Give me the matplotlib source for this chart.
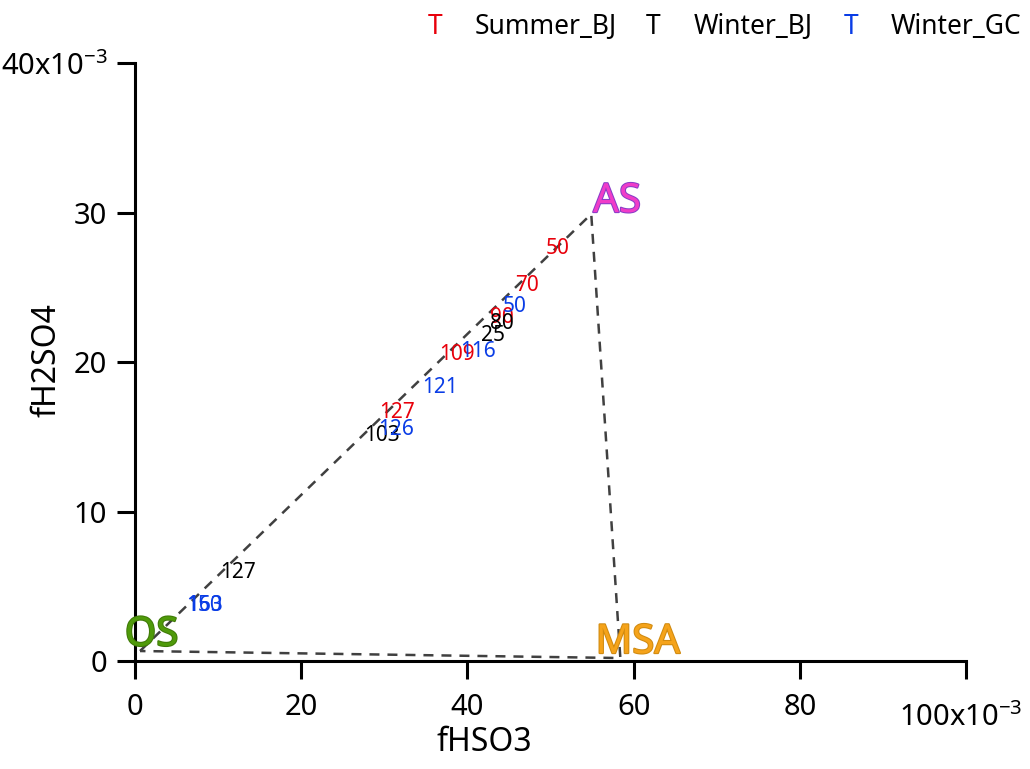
import matplotlib
matplotlib.use('Agg')
import matplotlib.pyplot as plt
import matplotlib.patheffects as pe

plt.rcParams['font.family'] = ['Noto Sans', 'DejaVu Sans']
plt.rcParams['mathtext.fontset'] = 'custom'
plt.rcParams['mathtext.rm'] = 'Noto Sans'
plt.rcParams['mathtext.it'] = 'Noto Sans'

# values in units of 1e-3
summer_labels = ['50', '70', '90', '109', '127']
summer_x = [50.9, 47.2, 44.2, 38.7, 31.5]
summer_y = [27.6, 25.1, 23.0, 20.5, 16.6]

winter_bj_labels = ['80', '25', '103', '127']
winter_bj_x = [44.2, 43.1, 29.7, 12.4]
winter_bj_y = [22.6, 21.8, 15.1, 5.95]

winter_gc_labels = ['50', '116', '121', '126', '150', '163']
winter_gc_x = [45.7, 41.3, 36.7, 31.4, 8.3, 8.4]
winter_gc_y = [23.7, 20.7, 18.3, 15.5, 3.7, 3.7]

# triangle corners: OS -> AS -> MSA -> OS
tri_x = [0.6, 54.9, 58.4, 0.6]
tri_y = [0.67, 29.9, 0.2, 0.67]

end_names = ['OS', 'AS', 'MSA']
end_x = [2.0, 58.0, 60.5]
end_y = [1.7, 30.7, 1.2]
end_colors = ['#4f9a0a', '#f03cc8', '#f5a31a']
end_edges = ['#3f7a08', '#8a3cc8', '#d08a10']

series = [
    ('Summer_BJ', '#e8000b', summer_labels, summer_x, summer_y),
    ('Winter_BJ', '#000000', winter_bj_labels, winter_bj_x, winter_bj_y),
    ('Winter_GC', '#0a3de6', winter_gc_labels, winter_gc_x, winter_gc_y),
]

fig = plt.figure(figsize=(10.3, 7.69), dpi=100)
ax = fig.add_axes([0.1311, 0.1404, 0.8068, 0.7776])

ax.plot(tri_x, tri_y, color='#404040', lw=1.8, dashes=(4, 3.2), zorder=1)

for name, col, labels, xs, ys in series:
    for lab, x, y in zip(labels, xs, ys):
        ax.text(x, y, lab, color=col, fontsize=15, ha='center', va='center', zorder=3)

for name, x, y, col, ec in zip(end_names, end_x, end_y, end_colors, end_edges):
    ax.text(x, y, name, color=col, fontsize=29, fontweight='bold', ha='center', va='center',
            zorder=4, path_effects=[pe.withStroke(linewidth=1.5, foreground=ec)])

ax.set_xlim(0, 100)
ax.set_ylim(0, 40)
ax.set_xticks([0, 20, 40, 60, 80, 100])
ax.set_xticklabels(['0', '20', '40', '60', '80', ''])
ax.set_yticks([0, 10, 20, 30, 40])
ax.set_yticklabels(['0', '10', '20', '30', '40x10$^{-3}$'])
ax.text(0.993, -0.096, '100x10$^{-3}$', transform=ax.transAxes, ha='center', va='center', fontsize=21)

for s in ['top', 'right']:
    ax.spines[s].set_visible(False)
for s in ['left', 'bottom']:
    ax.spines[s].set_linewidth(2.2)
ax.tick_params(axis='both', direction='out', length=13, width=2.2, labelsize=21)
ax.tick_params(axis='x', pad=10)
ax.tick_params(axis='y', pad=7)

ax.set_xlabel('fHSO3', fontsize=23)
ax.set_ylabel('fH2SO4', fontsize=23)
ax.xaxis.set_label_coords(0.42, -0.137)
ax.xaxis.label.set_va('center')
ax.yaxis.set_label_coords(-0.106, 0.503)
ax.yaxis.label.set_va('center')

# legend drawn as text along the top
leg_x = [0.422, 0.634, 0.826]
for (name, col, *_), lx in zip(series, leg_x):
    fig.text(lx, 0.965, 'T', color=col, fontsize=19, ha='center', va='center')
    fig.text(lx + 0.039, 0.965, name, color='black', fontsize=19, ha='left', va='center')

fig.savefig('out.png', dpi=100)
